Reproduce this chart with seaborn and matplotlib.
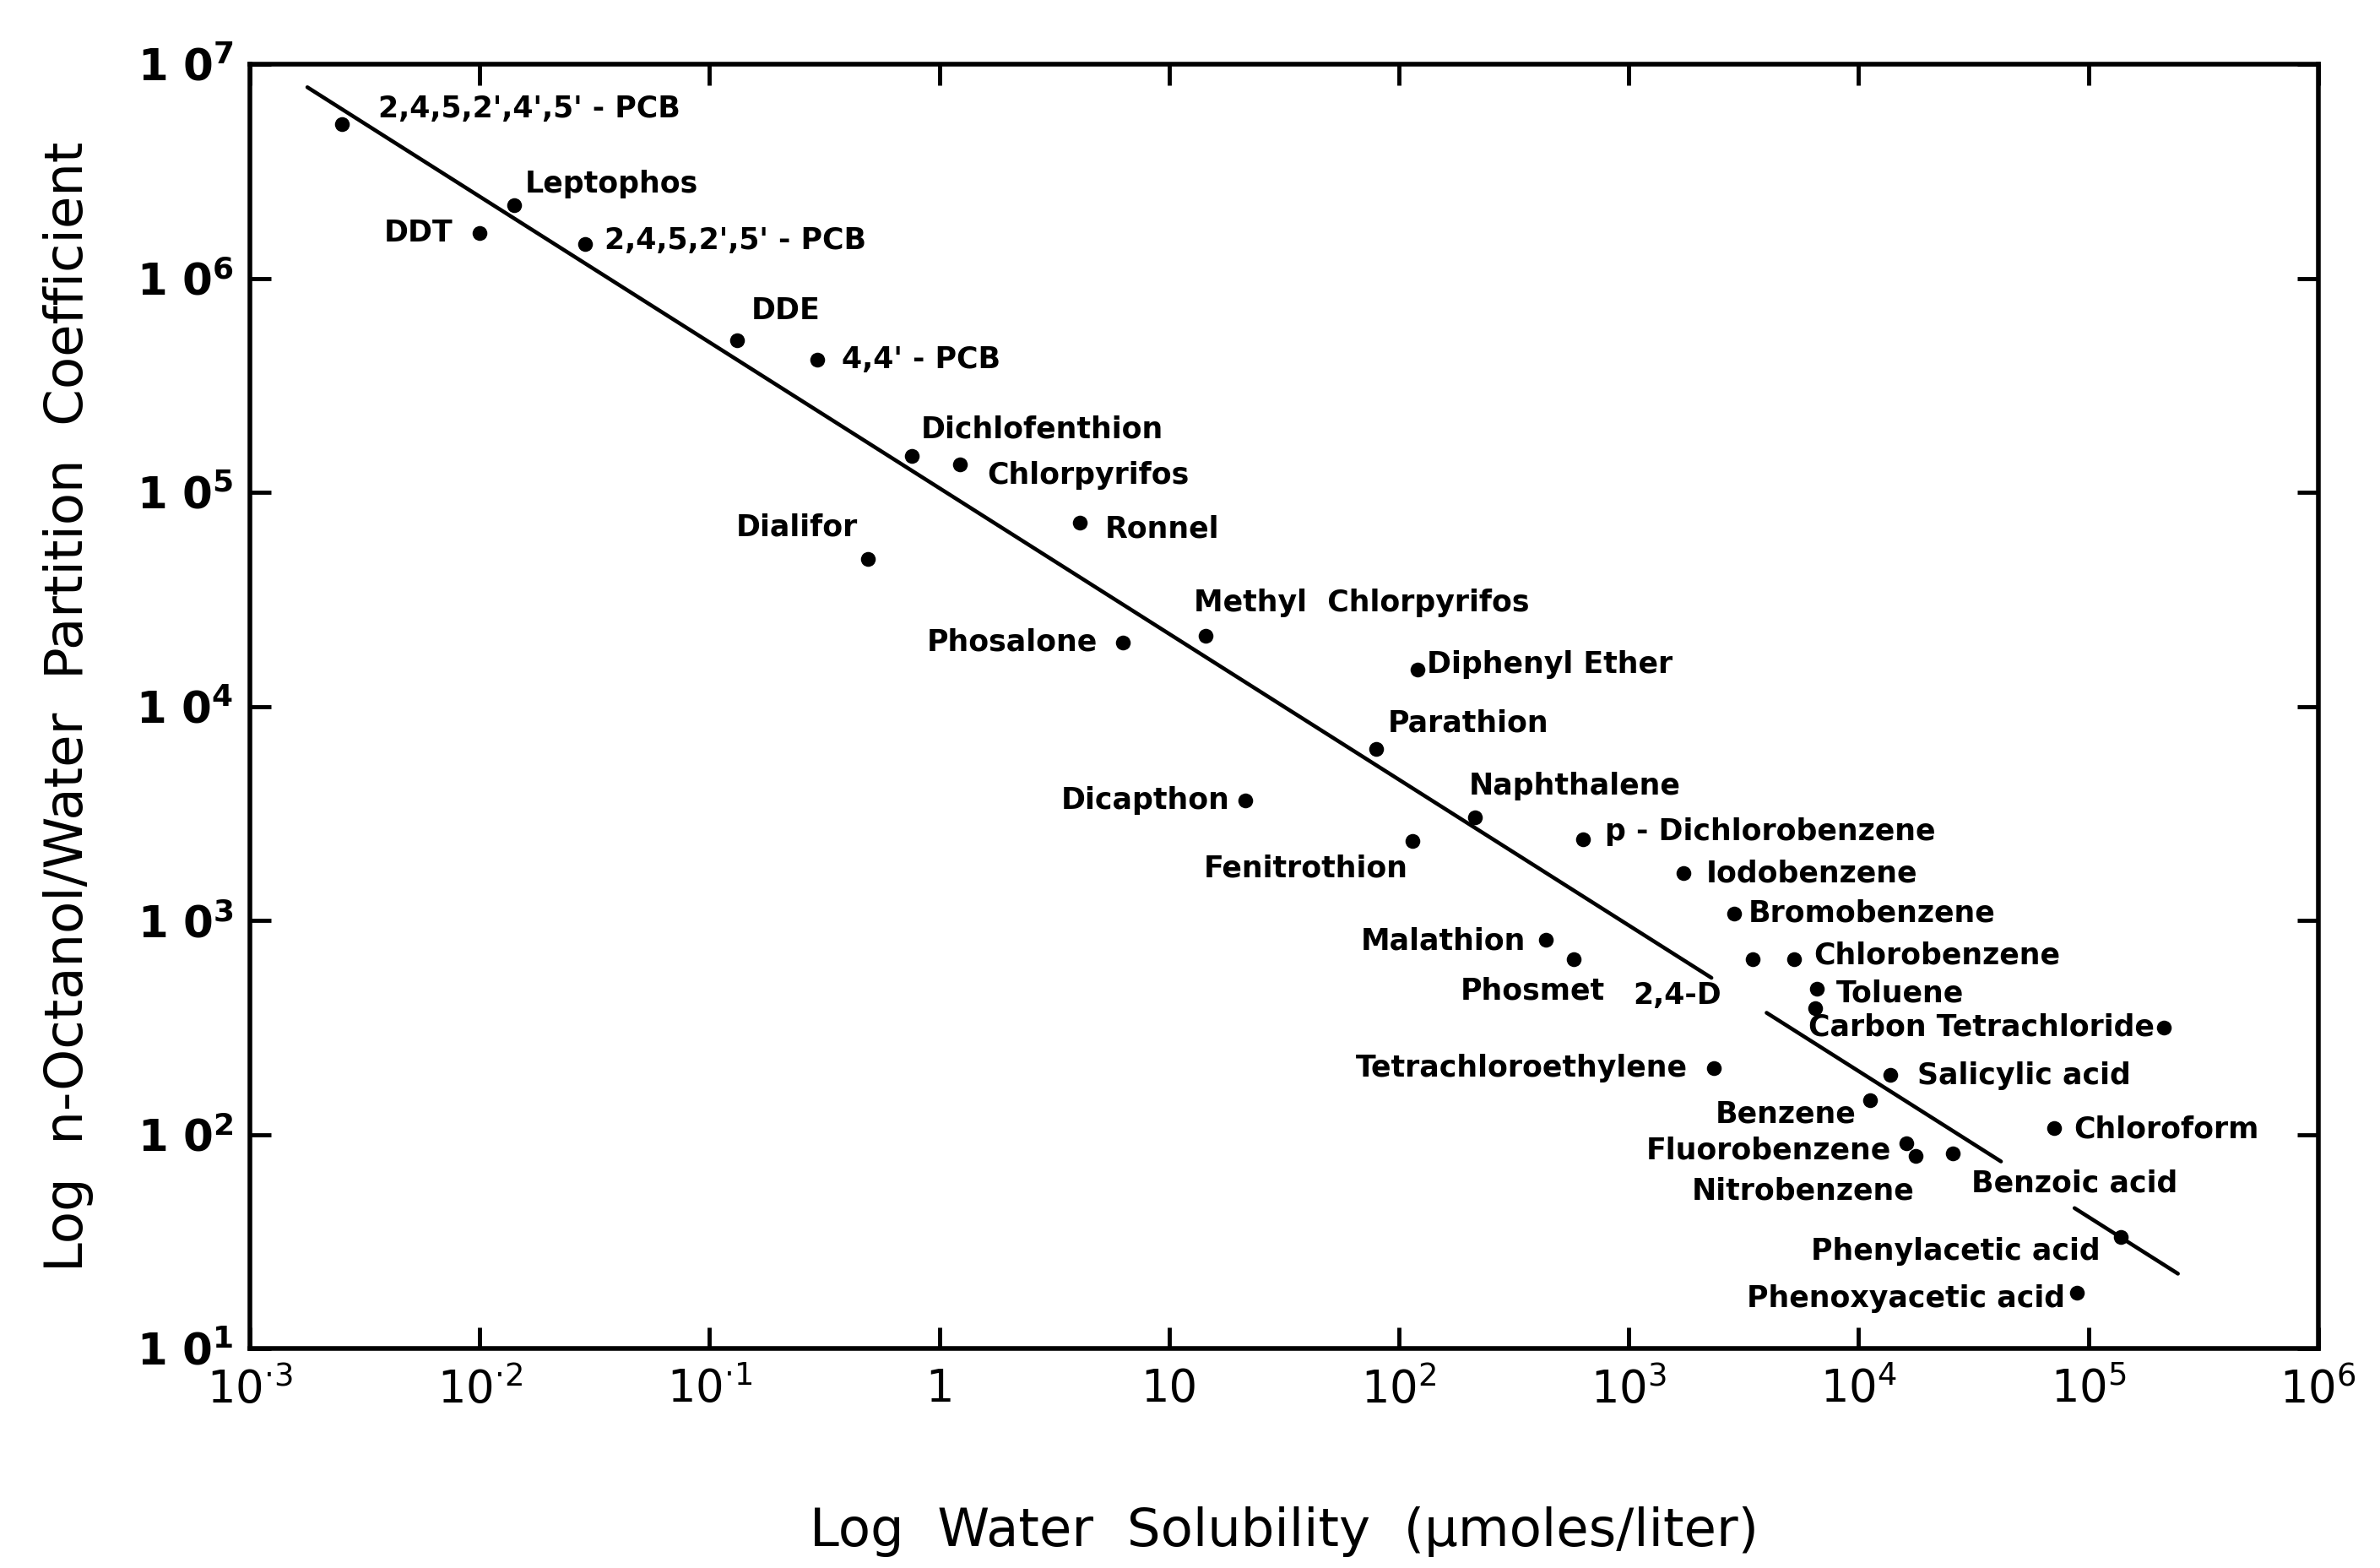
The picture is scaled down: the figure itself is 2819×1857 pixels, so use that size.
import numpy as np
import pandas as pd
import seaborn as sns
import matplotlib.pyplot as plt
from matplotlib.ticker import FixedLocator, FuncFormatter, NullLocator

# values (log10 units)
compounds = [
    "2,4,5,2',4',5' - PCB", "Leptophos", "DDT", "2,4,5,2',5' - PCB", "DDE",
    "4,4' - PCB", "Dichlofenthion", "Chlorpyrifos", "Dialifor", "Ronnel",
    "Phosalone", "Methyl  Chlorpyrifos", "Diphenyl Ether", "Parathion", "Dicapthon",
    "Naphthalene", "Fenitrothion", "p - Dichlorobenzene", "Iodobenzene", "Bromobenzene",
    "Malathion", "Phosmet", "2,4-D", "Chlorobenzene", "Toluene",
    "Carbon Tetrachloride", "Salicylic acid", "Tetrachloroethylene", "Benzene", "Fluorobenzene",
    "Nitrobenzene", "Benzoic acid", "Chloroform", "Phenylacetic acid", "Phenoxyacetic acid",
    "",
]
log_solubility = [
    -2.60, -1.85, -2.00, -1.54, -0.88,
    -0.53, -0.12, 0.09, -0.31, 0.61,
    0.80, 1.16, 2.08, 1.90, 1.33,
    2.33, 2.06, 2.80, 3.24, 3.46,
    2.64, 2.76, 3.54, 3.72, 3.82,
    5.33, 4.14, 3.37, 4.05, 4.21,
    4.25, 4.41, 4.85, 5.14, 4.95,
    3.81,
]
log_kow = [
    6.72, 6.34, 6.21, 6.16, 5.71,
    5.62, 5.17, 5.13, 4.69, 4.86,
    4.30, 4.33, 4.17, 3.80, 3.56,
    3.48, 3.37, 3.38, 3.22, 3.03,
    2.91, 2.82, 2.82, 2.82, 2.68,
    2.50, 2.28, 2.31, 2.16, 1.96,
    1.90, 1.91, 2.03, 1.52, 1.26,
    2.59,
]

# fitted line drawn in the figure: log Kow = a + b log S (broken around labels)
fit_intercept = 5.02
fit_slope = -0.681
fit_segments = [(-2.75, 3.36), (3.60, 4.62), (4.94, 5.39)]

# label placement (offset in points from the dot, alignment)
label_dx = [31, 9, -23, 16, 12, 21, 8, 23, -9, 22, -22, -10, 8, 10, -13,
            -5, -4, 19, 19, 12, -17, 27, -27, 17, 16, -8, 23, -22, -12, -13,
            -1, 16, 17, -17, -10, 0]
label_dy = [13, 18, 0, 3, 25, 0, 23, -9, 27, -6, 0, 28, 5, 22, 0,
            27, -23, 6, 0, 1, -1, -27, -31, 3, -4, 0, -1, 0, -12, -6,
            -30, -25, -1, -12, -5, 0]
label_ha = ['left', 'left', 'right', 'left', 'left', 'left', 'left', 'left', 'right', 'left',
            'right', 'left', 'left', 'left', 'right', 'left', 'right', 'left', 'left', 'left',
            'right', 'right', 'right', 'left', 'left', 'right', 'left', 'right', 'right', 'right',
            'right', 'left', 'left', 'right', 'right', 'left']

df = pd.DataFrame({
    'compound': compounds,
    'solubility': 10 ** np.array(log_solubility),
    'kow': 10 ** np.array(log_kow),
})

rows = []
for i, (x0, x1) in enumerate(fit_segments):
    for x in (x0, x1):
        rows.append({'seg': i, 'solubility': 10 ** x, 'kow': 10 ** (fit_intercept + fit_slope * x)})
line_df = pd.DataFrame(rows)

sns.set_theme(style='ticks')
plt.rcParams['font.family'] = ['DejaVu Sans']
plt.rcParams['mathtext.default'] = 'regular'
plt.rcParams['text.color'] = 'black'
plt.rcParams['axes.labelcolor'] = 'black'
plt.rcParams['xtick.color'] = 'black'
plt.rcParams['ytick.color'] = 'black'

fig = plt.figure(figsize=(28.19, 18.57), dpi=100, facecolor='white')
ax = fig.add_axes([0.105, 0.140, 0.869, 0.819])
ax.set_facecolor('white')

sns.lineplot(data=line_df, x='solubility', y='kow', units='seg', estimator=None,
             color='black', linewidth=3.3, ax=ax, legend=False)
sns.scatterplot(data=df, x='solubility', y='kow', color='black', s=160,
                edgecolor='black', linewidth=0, ax=ax, legend=False, zorder=3)

for name, xs, yk, dx, dy, ha in zip(df['compound'], df['solubility'], df['kow'],
                                    label_dx, label_dy, label_ha):
    if not name:
        continue
    ax.annotate(name, xy=(xs, yk), xytext=(dx, dy), textcoords='offset points',
                ha=ha, va='center', fontsize=25, fontweight='bold', color='black')

ax.set_xscale('log')
ax.set_yscale('log')
ax.set_xlim(1e-3, 1e6)
ax.set_ylim(1e1, 1e7)

ax.xaxis.set_major_locator(FixedLocator([10.0 ** k for k in range(-3, 7)]))
ax.yaxis.set_major_locator(FixedLocator([10.0 ** k for k in range(1, 8)]))
ax.xaxis.set_minor_locator(NullLocator())
ax.yaxis.set_minor_locator(NullLocator())


def fmt_x(v, _):
    k = int(round(np.log10(v)))
    if k == 0:
        return '1'
    if k == 1:
        return '10'
    return '10$^{' + str(k).replace('-', '\u00b7') + '}$'


def fmt_y(v, _):
    k = int(round(np.log10(v)))
    return '1 0$^{' + str(k) + '}$'


ax.xaxis.set_major_formatter(FuncFormatter(fmt_x))
ax.yaxis.set_major_formatter(FuncFormatter(fmt_y))

ax.tick_params(which='major', direction='in', length=18, width=3.5,
               top=True, right=True, colors='black')
ax.tick_params(axis='x', labelsize=38, pad=16)
ax.tick_params(axis='y', labelsize=37, pad=14)
for lab in ax.get_yticklabels():
    lab.set_fontweight('bold')

for sp in ax.spines.values():
    sp.set_linewidth(4)
    sp.set_color('black')

ax.set_xlabel('Log  Water  Solubility  (\u00b5moles/liter)', fontsize=45, labelpad=80,
              color='black')
ax.set_ylabel('Log  n-Octanol/Water  Partition  Coefficient', fontsize=45, labelpad=36,
              color='black')

fig.savefig('out.png', dpi=100, facecolor='white')
